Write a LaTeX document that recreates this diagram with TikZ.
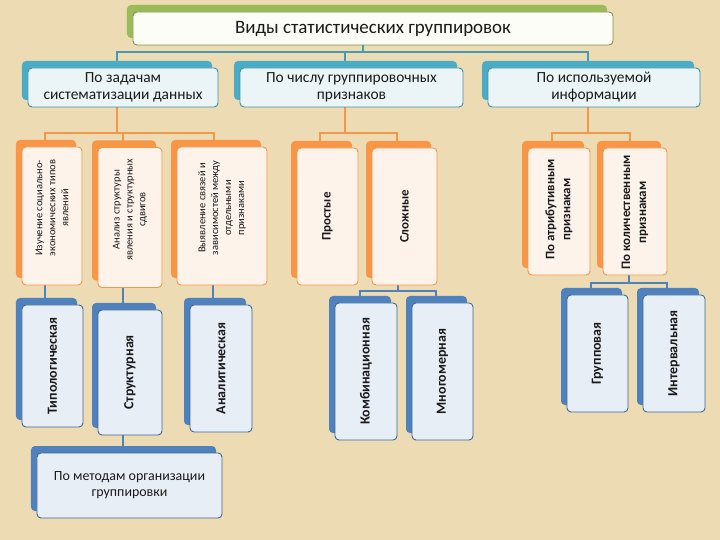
\documentclass[tikz,border=0pt]{standalone}
\usepackage{fontspec}
\setmainfont{Carlito}
\usetikzlibrary{shadows}
\pgfdeclarelayer{bg}\pgfdeclarelayer{lines}\pgfsetlayers{bg,lines,main}
\definecolor{bgc}{HTML}{EDDBB3}
\definecolor{grn}{HTML}{9BBB59}
\definecolor{tea}{HTML}{4BACC6}
\definecolor{ora}{HTML}{F79646}
\definecolor{blu}{HTML}{4F81BD}
\definecolor{fG}{HTML}{FBFDF6}
\definecolor{fT}{HTML}{EBF5F8}
\definecolor{fO}{HTML}{FDF3EB}
\definecolor{fB}{HTML}{E8EEF6}
\definecolor{txt}{HTML}{1A1A1A}
\tikzset{
  cardbase/.style={rounded corners=4bp, line width=0.9bp, inner sep=0pt, align=center, text=txt},
  cardG/.style={cardbase, draw=grn!80!black, fill=fG, copy shadow={fill=grn, draw=none, shadow xshift=-6bp, shadow yshift=7bp}},
  cardT/.style={cardbase, draw=tea!85!black, fill=fT, copy shadow={fill=tea, draw=none, shadow xshift=-6bp, shadow yshift=7bp}},
  cardO/.style={cardbase, draw=ora, fill=fO, copy shadow={fill=ora, draw=none, shadow xshift=-6bp, shadow yshift=7bp}},
  cardB/.style={cardbase, draw=blu!80!black, fill=fB, copy shadow={fill=blu, draw=none, shadow xshift=-6bp, shadow yshift=7bp}},
  vt/.style={rotate=90, align=center, text=txt, inner sep=0pt, font=\fontsize{10.5}{13}\selectfont},
  vb/.style={rotate=90, align=center, text=txt, inner sep=0pt, font=\bfseries\fontsize{14}{16}\selectfont},
  vbs/.style={rotate=90, align=center, text=txt, inner sep=0pt, font=\bfseries\fontsize{13}{16}\selectfont},
  tl/.style={draw=tea!90!black, line width=1.6bp},
  ol/.style={draw=ora, line width=1.6bp},
  bl/.style={draw=blu, line width=1.6bp},
}
\begin{document}
\begin{tikzpicture}[x=1bp,y=-1bp]
\useasboundingbox (0,0) rectangle (720,540);
\begin{pgfonlayer}{bg}
\fill[bgc] (0,0) rectangle (720,540);
\end{pgfonlayer}
% title and headers
\node[cardG, minimum width=480bp, minimum height=33bp, font=\fontsize{19}{22}\selectfont] (title) at (373,28.5) {Виды статистических группировок};
\node[cardT, minimum width=190bp, minimum height=39bp, font=\fontsize{15.5}{17}\selectfont] (h1) at (123,87.5) {По задачам\\систематизации данных};
\node[cardT, minimum width=223bp, minimum height=39bp, font=\fontsize{15.5}{17}\selectfont] (h2) at (351.5,87.5) {По числу группировочных\\признаков};
\node[cardT, minimum width=212bp, minimum height=39bp, font=\fontsize{15.5}{17}\selectfont] (h3) at (594,87.5) {По используемой\\информации};
% orange level
\node[cardO, minimum width=60bp, minimum height=138bp] (A) at (52,216) {};
\node[cardO, minimum width=64bp, minimum height=140bp] (B) at (130,217.5) {};
\node[cardO, minimum width=90bp, minimum height=138bp] (C) at (222,216) {};
\node[cardO, minimum width=61bp, minimum height=137bp] (pr) at (327.5,216.5) {};
\node[cardO, minimum width=65bp, minimum height=137bp] (sl) at (404.5,216.5) {};
\node[cardO, minimum width=62bp, minimum height=127bp] (at) at (559,211.5) {};
\node[cardO, minimum width=64bp, minimum height=127bp] (kol) at (635,211.5) {};
\node[vt] (tA) at ([yshift=8bp]A.center) {Изучение социально-\\экономических типов\\явлений};
\node[vt] (tB) at ([yshift=8bp]B.center) {Анализ структуры\\явления и структурных\\сдвигов};
\node[vt] (tC) at ([yshift=8bp]C.center) {Выявление связей и\\зависимостей между\\отдельными\\признаками};
\node[vbs] (tpr) at (pr.center) {Простые};
\node[vbs] (tsl) at (sl.center) {Сложные};
\node[vbs] (tat) at ([yshift=2bp]at.center) {По атрибутивным\\признакам};
\node[vbs] (tkol) at ([yshift=-1bp]kol.center) {По количественным\\признакам};
% blue level
\node[cardB, minimum width=61bp, minimum height=122bp] (tip) at (52.5,366) {};
\node[cardB, minimum width=64bp, minimum height=125bp] (str) at (130,372.5) {};
\node[cardB, minimum width=62bp, minimum height=127bp] (an) at (221,368.5) {};
\node[cardB, minimum width=62bp, minimum height=137bp] (kom) at (366,371.5) {};
\node[cardB, minimum width=61bp, minimum height=137bp] (mn) at (442.5,371.5) {};
\node[cardB, minimum width=61bp, minimum height=117bp] (gr) at (597.5,353.5) {};
\node[cardB, minimum width=62bp, minimum height=117bp] (int) at (674,353.5) {};
\node[vb] (ttip) at (tip.center) {Типологическая};
\node[vb] (tstr) at (str.center) {Структурная};
\node[vb] (tan) at (an.center) {Аналитическая};
\node[vb] (tkom) at (kom.center) {Комбинационная};
\node[vb] (tmn) at (mn.center) {Многомерная};
\node[vb] (tgr) at (gr.center) {Групповая};
\node[vb] (tint) at (int.center) {Интервальная};
\node[cardB, minimum width=185bp, minimum height=65bp, font=\fontsize{14}{16}\selectfont] (met) at (129.5,485.5) {По методам организации\\группировки};
% junctions
\coordinate (tj) at (363,52);
\coordinate (oj1) at (117,133);
\coordinate (oj2) at (345,133);
\coordinate (oj3) at (588,133);
\coordinate (bj1) at (398,291);
\coordinate (bj2) at (629,283);
\begin{pgfonlayer}{lines}
\draw[tl] (title.south -| tj) -- (tj);
\draw[tl] ([xshift=-6bp]h1.north) |- (tj) -| ([xshift=-6bp]h3.north);
\draw[tl] ([xshift=-6.5bp]h2.north) -- ([xshift=-6.5bp]h2.north |- tj);
\draw[ol] (h1.south -| oj1) -- (oj1);
\draw[ol] ([xshift=-7bp]A.north) |- (oj1) -| ([xshift=-8bp]C.north);
\draw[ol] ([xshift=-7bp]B.north) -- ([xshift=-7bp]B.north |- oj1);
\draw[ol] (h2.south -| oj2) -- (oj2);
\draw[ol] ([xshift=-7.5bp]pr.north) |- (oj2) -| ([xshift=-7.5bp]sl.north);
\draw[ol] (h3.south -| oj3) -- (oj3);
\draw[ol] ([xshift=-7bp]at.north) |- (oj3) -| ([xshift=-5bp]kol.north);
\draw[bl] ([xshift=-7.5bp]tip.north |- A.south) -- ([xshift=-7.5bp]tip.north);
\draw[bl] ([xshift=-7bp]str.north |- B.south) -- ([xshift=-7bp]str.north);
\draw[bl] ([xshift=-8bp]an.north |- C.south) -- ([xshift=-8bp]an.north);
\draw[bl] ([xshift=-7bp]str.south) -- ([xshift=-7bp]str.south |- met.north);
\draw[bl] (sl.south -| bj1) -- (bj1);
\draw[bl] ([xshift=-6bp]kom.north) |- (bj1) -| ([xshift=-6.5bp]mn.north);
\draw[bl] (kol.south -| bj2) -- (bj2);
\draw[bl] ([xshift=-6.5bp]gr.north) |- (bj2) -| ([xshift=-7bp]int.north);
\end{pgfonlayer}
\end{tikzpicture}
\end{document}
